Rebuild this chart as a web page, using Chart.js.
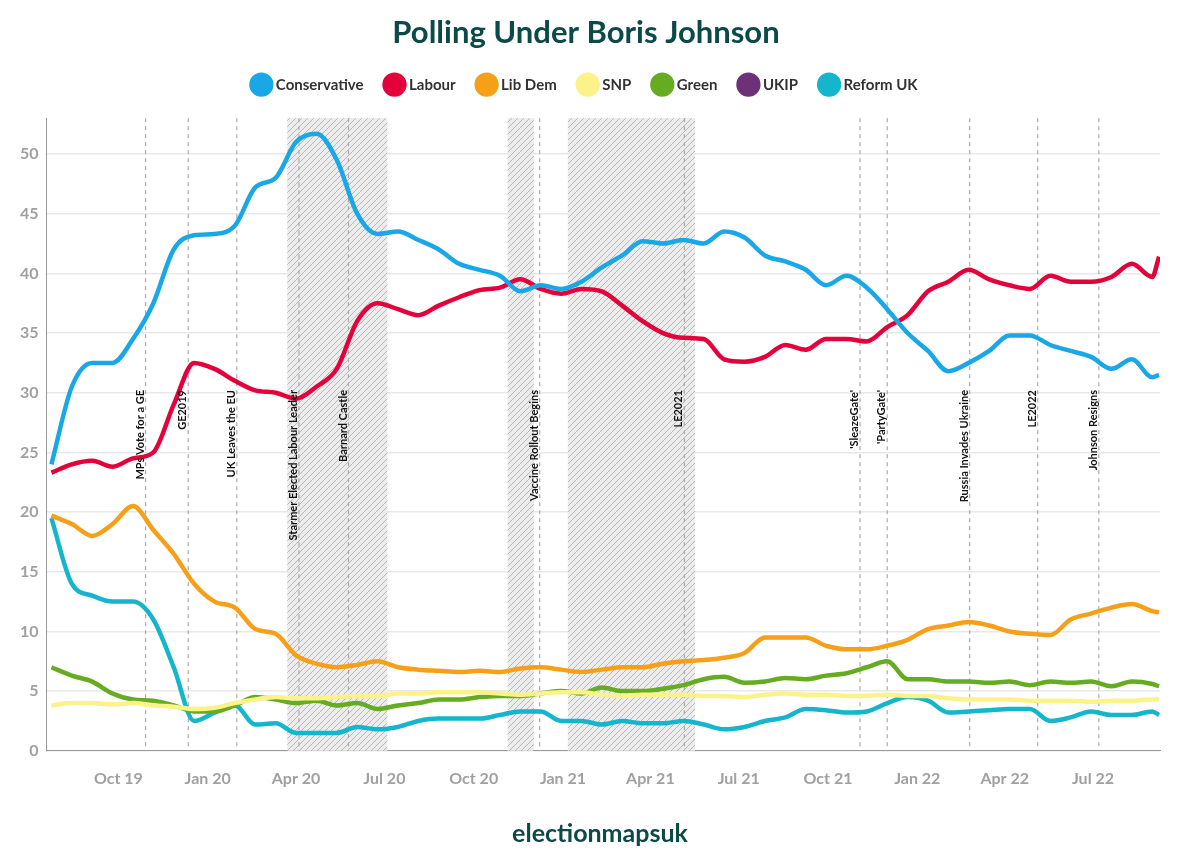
<!DOCTYPE html>
<html>
<head>
<meta charset="utf-8">
<script src="https://cdn.jsdelivr.net/npm/chart.js@4/dist/chart.umd.min.js"></script>
<style>
  body { margin: 0; background: #fff; }
  #wrap { width: 1200px; height: 852px; position: relative; }
</style>
</head>
<body>
<div id="wrap"><canvas id="chart" width="1200" height="852"></canvas></div>
<script>
// --- Data (3-weekly readings) ---
const dates = [
  '2019-07-24','2019-08-14','2019-09-04','2019-09-25','2019-10-16','2019-11-06','2019-11-27','2019-12-18',
  '2020-01-08','2020-01-29','2020-02-19','2020-03-11','2020-04-01','2020-04-22','2020-05-13','2020-06-03',
  '2020-06-24','2020-07-15','2020-08-05','2020-08-26','2020-09-16','2020-10-07','2020-10-28','2020-11-18',
  '2020-12-09','2020-12-30','2021-01-20','2021-02-10','2021-03-03','2021-03-24','2021-04-14','2021-05-05',
  '2021-05-26','2021-06-16','2021-07-07','2021-07-28','2021-08-18','2021-09-08','2021-09-29','2021-10-20',
  '2021-11-10','2021-12-01','2021-12-22','2022-01-12','2022-02-02','2022-02-23','2022-03-16','2022-04-06',
  '2022-04-27','2022-05-18','2022-06-08','2022-06-29','2022-07-20','2022-08-10','2022-08-31','2022-09-07'
];
const conservative = [24,30.5,32.5,32.5,34.5,37.5,42,43.2,43.3,44,47.2,48,51,51.7,49.5,45,43.3,43.5,42.8,42,40.8,40.3,39.8,38.5,39,38.7,39.3,40.5,41.5,42.7,42.5,42.8,42.5,43.5,43,41.5,41,40.3,39,39.8,38.8,37,35,33.5,31.8,32.5,33.5,34.8,34.8,34,33.5,33,32,32.8,31.3,31.5];
const labour = [23.3,24,24.3,23.8,24.5,25,29,32.5,32,31,30.2,30,29.5,30.5,32,36,37.5,37,36.5,37.3,38,38.6,38.8,39.5,38.7,38.3,38.7,38.5,37.3,36,35,34.6,34.5,32.8,32.6,33,34,33.6,34.5,34.5,34.3,35.5,36.5,38.5,39.3,40.3,39.5,39,38.7,39.8,39.3,39.3,39.7,40.8,39.7,41.4];
const libDem = [19.7,19,18,19,20.5,18.5,16.5,14,12.5,12,10.2,9.8,8,7.3,7,7.2,7.5,7,6.8,6.7,6.6,6.7,6.6,6.9,7,6.8,6.6,6.8,7,7,7.3,7.5,7.6,7.8,8.2,9.5,9.5,9.5,8.8,8.5,8.5,8.8,9.3,10.2,10.5,10.8,10.5,10,9.8,9.7,11,11.5,12,12.3,11.7,11.6];
const snp = [3.8,4,4,3.9,4,3.8,3.7,3.5,3.6,4,4.3,4.5,4.4,4.4,4.5,4.6,4.6,4.8,4.8,4.9,4.9,4.9,4.8,4.7,4.8,4.9,4.9,4.7,4.6,4.7,4.7,4.7,4.6,4.6,4.5,4.7,4.8,4.7,4.7,4.6,4.6,4.7,4.6,4.6,4.4,4.3,4.3,4.3,4.2,4.2,4.2,4.1,4.2,4.2,4.3,4.3];
const green = [7,6.3,5.8,4.8,4.3,4.2,3.8,3.3,3.3,3.8,4.5,4.3,4,4.2,3.8,4,3.5,3.8,4,4.3,4.3,4.5,4.6,4.6,4.8,5,4.8,5.3,5,5,5.2,5.5,6,6.2,5.7,5.8,6.1,6,6.3,6.5,7,7.5,6,6,5.8,5.8,5.7,5.8,5.5,5.8,5.7,5.8,5.4,5.8,5.6,5.4];
const ukip = [];
const reform = [19.5,14,13,12.5,12.5,11,7,2.5,3.2,3.8,2.2,2.3,1.5,1.5,1.5,2,1.8,2,2.5,2.7,2.7,2.7,3,3.3,3.3,2.5,2.5,2.2,2.5,2.3,2.3,2.5,2.2,1.8,2,2.5,2.8,3.5,3.4,3.2,3.3,4,4.5,4.2,3.2,3.3,3.4,3.5,3.5,2.5,2.8,3.3,3,3,3.3,3];

const tickDates = ['2019-10-01','2020-01-01','2020-04-01','2020-07-01','2020-10-01','2021-01-01','2021-04-01','2021-07-01','2021-10-01','2022-01-01','2022-04-01','2022-07-01'];
const tickLabels = ['Oct 19','Jan 20','Apr 20','Jul 20','Oct 20','Jan 21','Apr 21','Jul 21','Oct 21','Jan 22','Apr 22','Jul 22'];

const lockdowns = [['2020-03-23','2020-07-04'],['2020-11-05','2020-12-02'],['2021-01-06','2021-05-17']];
const eventDates = ['2019-10-29','2019-12-12','2020-01-31','2020-04-04','2020-05-25','2020-12-08','2021-05-06','2021-11-03','2021-12-01','2022-02-24','2022-05-05','2022-07-07'];
const eventLabels = ['MPs Vote for a GE','GE2019','UK Leaves the EU','Starmer Elected Labour Leader','Barnard Castle','Vaccine Rollout Begins','LE2021',"'SleazeGate'","'PartyGate'",'Russia Invades Ukraine','LE2022','Johnson Resigns'];

const day = s => Date.parse(s) / 86400000;
const pts = vals => vals.map((v, i) => ({ x: day(dates[i]), y: v }));

const FONT = 'Lato, "Open Sans", sans-serif';
const TEAL = '#0b4a46';

// --- Hatched lockdown bands + event lines ---
function hatch(ctx) {
    const c = document.createElement('canvas');
    c.width = 6; c.height = 6;
    const g = c.getContext('2d');
    g.fillStyle = '#ececec';
    g.fillRect(0, 0, 6, 6);
    g.strokeStyle = '#b8b8b8';
    g.lineWidth = 1;
    g.beginPath();
    g.moveTo(0, 6); g.lineTo(6, 0);
    g.moveTo(-1, 1); g.lineTo(1, -1);
    g.moveTo(5, 7); g.lineTo(7, 5);
    g.stroke();
    return ctx.createPattern(c, 'repeat');
}

const annotations = {
    id: 'annotations',
    beforeDatasetsDraw(chart) {
        const { ctx, chartArea: a, scales: { x } } = chart;
        ctx.save();
        ctx.fillStyle = hatch(ctx);
        lockdowns.forEach(([s, e]) => {
            const x0 = x.getPixelForValue(day(s)), x1 = x.getPixelForValue(day(e));
            ctx.fillRect(x0, a.top, x1 - x0, a.bottom - a.top);
        });
        ctx.strokeStyle = '#aaa';
        ctx.lineWidth = 1.2;
        ctx.setLineDash([4, 4]);
        eventDates.forEach(d => {
            const px = x.getPixelForValue(day(d));
            ctx.beginPath();
            ctx.moveTo(px, a.top);
            ctx.lineTo(px, a.bottom);
            ctx.stroke();
        });
        ctx.restore();
    },
    afterDatasetsDraw(chart) {
        const { ctx, scales: { x } } = chart;
        ctx.save();
        ctx.font = 'bold 11px ' + FONT;
        ctx.fillStyle = '#111';
        ctx.textAlign = 'right';
        ctx.textBaseline = 'bottom';
        eventDates.forEach((d, i) => {
            const px = x.getPixelForValue(day(d));
            ctx.save();
            ctx.translate(px, 390);
            ctx.rotate(-Math.PI / 2);
            ctx.fillText(eventLabels[i], 0, 0);
            ctx.restore();
        });
        ctx.restore();
    }
};

const footer = {
    id: 'footer',
    afterDraw(chart) {
        const { ctx } = chart;
        ctx.save();
        ctx.font = 'bold 25px ' + FONT;
        ctx.fillStyle = TEAL;
        ctx.textAlign = 'center';
        ctx.fillText('electionmapsuk', 600, 834);
        ctx.restore();
    }
};

// extra gap under the legend
const legendGap = {
    id: 'legendGap',
    beforeInit(chart) {
        const fit = chart.legend.fit;
        chart.legend.fit = function () {
            fit.bind(chart.legend)();
            this.height += 16;
        };
    }
};

const series = [
    ['Conservative', conservative, '#1aa7e6'],
    ['Labour', labour, '#e4003b'],
    ['Lib Dem', libDem, '#f6a01a'],
    ['SNP', snp, '#fbf28a'],
    ['Green', green, '#66ac22'],
    ['UKIP', ukip, '#6d3177'],
    ['Reform UK', reform, '#14b5cd']
];

new Chart(document.getElementById('chart'), {
    type: 'line',
    data: {
        datasets: series.map(([label, vals, col], i) => ({
            label,
            data: pts(vals),
            borderColor: col,
            backgroundColor: col,
            borderWidth: 4.5,
            pointRadius: 0,
            tension: 0.4,
            cubicInterpolationMode: 'monotone',
            order: i
        }))
    },
    options: {
        responsive: false,
        devicePixelRatio: 1,
        animation: false,
        layout: { padding: { left: 12, right: 40, top: 10, bottom: 54 } },
        plugins: {
            title: {
                display: true,
                text: 'Polling Under Boris Johnson',
                color: TEAL,
                font: { family: FONT, size: 31, weight: 'bold' },
                padding: { top: 4, bottom: 2 }
            },
            legend: {
                labels: {
                    usePointStyle: true,
                    pointStyle: 'circle',
                    boxWidth: 14,
                    boxHeight: 14,
                    padding: 24,
                    color: '#333',
                    font: { family: FONT, size: 15, weight: 'bold' }
                }
            },
            tooltip: { enabled: false }
        },
        scales: {
            x: {
                type: 'linear',
                min: day('2019-07-19'),
                max: day('2022-09-08'),
                afterBuildTicks: s => { s.ticks = tickDates.map(d => ({ value: day(d) })); },
                ticks: {
                    callback: v => tickLabels[tickDates.findIndex(d => day(d) === v)],
                    color: '#a0a0a0',
                    font: { family: FONT, size: 16, weight: 'bold' },
                    maxRotation: 0,
                    autoSkip: false,
                    padding: 10
                },
                grid: { display: false },
                border: { color: '#999' }
            },
            y: {
                min: 0,
                max: 53,
                afterBuildTicks: s => { s.ticks = [0, 5, 10, 15, 20, 25, 30, 35, 40, 45, 50].map(v => ({ value: v })); },
                ticks: {
                    color: '#a0a0a0',
                    font: { family: FONT, size: 16, weight: 'bold' },
                    padding: 8
                },
                grid: { color: '#e8e8e8', lineWidth: 1.5, drawTicks: false },
                border: { color: '#999' }
            }
        }
    },
    plugins: [annotations, footer, legendGap]
});
</script>
</body>
</html>
